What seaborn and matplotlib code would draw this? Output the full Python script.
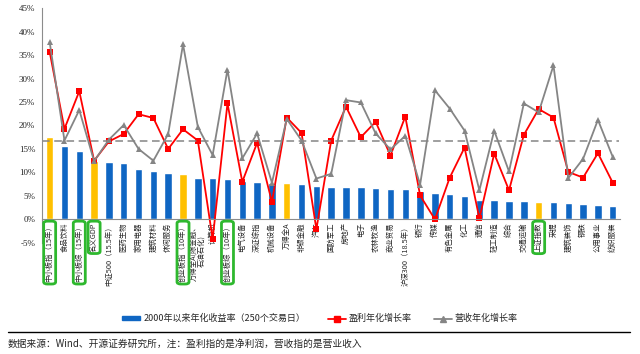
import numpy as np
import pandas as pd
import matplotlib.pyplot as plt
import seaborn as sns
from matplotlib.patches import FancyBboxPatch, Patch
from matplotlib.lines import Line2D

names = ['中小板指（15年）', '食品饮料', '中小板综（15年）', '名义GDP', '中证500（15.5年）',
         '医药生物', '家用电器', '建筑材料', '休闲服务', '创业板指（10年）',
         '万得全A(除金融、\n石油石化)', '计算机', '创业板综（10年）', '电气设备', '深证综指',
         '机械设备', '万得全A', '非银金融', '汽车', '国防军工', '房地产', '电子', '农林牧渔',
         '商业贸易', '沪深300（18.5年）', '银行', '传媒', '有色金属', '化工', '通信',
         '轻工制造', '综合', '交通运输', '上证指数', '采掘', '建筑装饰', '钢铁', '公用事业',
         '纺织服装']
ret = [17.5, 15.7, 14.5, 12.5, 12.2, 12.1, 10.8, 10.4, 9.9, 9.6,
       8.9, 8.8, 8.7, 8.2, 8.0, 7.7, 7.8, 7.5, 7.1, 7.0,
       6.9, 6.8, 6.7, 6.4, 6.4, 6.1, 5.6, 5.3, 5.0, 4.2,
       4.2, 3.9, 3.9, 3.8, 3.7, 3.5, 3.3, 3.1, 2.9]
profit = [35.7, 19.3, 27.3, 12.5, 16.6, 18.2, 22.4, 21.6, 15.0, 19.2,
          16.8, -4.2, 24.7, 8.0, 16.3, 3.7, 21.7, 18.4, -2.1, 16.8,
          24.0, 17.5, 20.8, 13.6, 21.9, 5.1, 0.0, 8.9, 15.3, 0.2,
          14.0, 6.2, 18.0, 23.5, 21.7, 10.1, 8.9, 14.1, 7.8]
revenue = [37.8, 16.8, 23.3, 12.4, 17.0, 20.1, 15.0, 12.5, 18.2, 37.3,
           19.7, 13.7, 31.9, 13.0, 18.3, 7.8, 21.4, 16.8, 8.7, 9.7,
           25.4, 24.9, 18.3, 14.9, 17.8, 7.4, 27.5, 23.6, 18.9, 6.2,
           18.9, 10.2, 24.7, 22.8, 32.8, 8.8, 12.9, 21.2, 13.3]
index_names = ['中小板指（15年）', '名义GDP', '创业板指（10年）', '万得全A', '上证指数']
boxed = [0, 2, 3, 9, 12, 33]
avg_line = 16.8

blue = '#0f66c3'
orange = '#ffc000'
red = '#ff0000'
gray = '#858585'
green = '#2eb82e'

df = pd.DataFrame({'name': names, 'ret': ret})
df['kind'] = np.where(df['name'].isin(index_names), 'idx', 'ind')

sns.set_style('white')
plt.rcParams['font.family'] = ['Noto Sans CJK SC', 'DejaVu Sans']

fig = plt.figure(figsize=(6.4, 3.54), dpi=100)
ax = fig.add_axes([0.066, 0.314, 0.903, 0.663])

sns.barplot(data=df, x='name', y='ret', hue='kind', order=names,
            palette={'idx': orange, 'ind': blue}, dodge=False, width=0.5,
            saturation=1, legend=False, ax=ax)
xs = np.arange(len(names))
sns.lineplot(x=xs, y=profit, color=red, marker='s', markersize=3.8, lw=1.3,
             markeredgewidth=0, ax=ax)
sns.lineplot(x=xs, y=revenue, color=gray, marker='^', markersize=3.8, lw=1.3,
             markeredgewidth=0, ax=ax)
ax.hlines(avg_line, -0.5, len(names) - 0.6, colors=gray, linestyles=(0, (5, 3)), lw=1.1)

ax.set_xlim(-0.5, len(names) - 0.5)
ax.set_ylim(-5, 45)
ax.set_yticks(np.arange(-5, 46, 5))
ax.set_yticklabels([f'{v}%' for v in range(-5, 46, 5)], family='Liberation Serif', fontsize=6.5)
ax.set_xlabel('')
ax.set_ylabel('')
ax.spines['top'].set_visible(False)
ax.spines['right'].set_visible(False)
ax.spines['bottom'].set_position(('data', 0))
for s in ['left', 'bottom']:
    ax.spines[s].set_color('#8c8c8c')
    ax.spines[s].set_linewidth(0.8)
ax.set_xticks(xs)
ax.set_xticklabels(names, rotation=90, fontsize=5.3, linespacing=1.0)
ax.set_xticks(np.arange(-0.5, len(names), 1), minor=True)
ax.tick_params(axis='x', which='major', length=0, pad=2)
ax.tick_params(axis='x', which='minor', length=2, color='#8c8c8c', width=0.6)
ax.tick_params(axis='y', length=2, color='#8c8c8c', width=0.6, pad=3)

handles = [Patch(color=blue),
           Line2D([], [], color=red, marker='s', markersize=3.8, lw=1.3),
           Line2D([], [], color=gray, marker='^', markersize=3.8, lw=1.3)]
labels = ['2000年以来年化收益率（250个交易日）', '盈利年化增长率', '营收年化增长率']
fig.legend(handles, labels, loc='center', bbox_to_anchor=(0.5, 0.1), ncol=3,
           frameon=False, fontsize=6.5, handlelength=2.0, handleheight=0.35,
           columnspacing=2.5, handletextpad=0.3)

fig.add_artist(Line2D([0.012, 0.985], [0.062, 0.062], color='black', lw=1.0,
                      transform=fig.transFigure))
fig.text(0.012, 0.03, '数据来源：Wind、开源证券研究所，注：盈利指的是净利润，营收指的是营业收入',
         fontsize=7, va='center', ha='left')

# green rounded boxes round some tick labels
fig.canvas.draw()
inv = fig.transFigure.inverted()
tl = ax.get_xticklabels()
for i in boxed:
    bb = tl[i].get_window_extent()
    (x0, y0) = inv.transform((bb.x0 - 2, bb.y0 - 2))
    (x1, y1) = inv.transform((bb.x1 + 2, bb.y1 + 1))
    fig.add_artist(FancyBboxPatch((x0, y0), x1 - x0, y1 - y0,
                                  boxstyle='round,pad=0,rounding_size=0.006',
                                  fill=False, edgecolor=green, lw=2,
                                  transform=fig.transFigure))

fig.savefig('out.png', dpi=100)
